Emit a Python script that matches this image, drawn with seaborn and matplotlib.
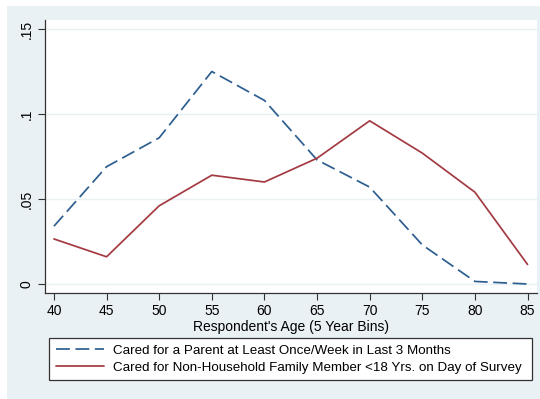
import matplotlib
matplotlib.use("Agg")
import matplotlib.pyplot as plt
import seaborn as sns
import pandas as pd
from matplotlib.patches import Rectangle
from matplotlib.ticker import FixedLocator, FixedFormatter

ages = [40, 45, 50, 55, 60, 65, 70, 75, 80, 85]
parent = [0.034, 0.069, 0.086, 0.125, 0.108, 0.073, 0.057, 0.023, 0.0015, 0.0]
family = [0.0265, 0.016, 0.046, 0.064, 0.060, 0.074, 0.096, 0.077, 0.054, 0.0115]
labels = ["Cared for a Parent at Least Once/Week in Last 3 Months",
          "Cared for Non-Household Family Member <18 Yrs. on Day of Survey"]
yticks = [0, 0.05, 0.1, 0.15]
yticklabels = ["0", ".05", ".1", ".15"]
xlabel = "Respondent's Age (5 Year Bins)"

sns.set_theme(style="white")
plt.rcParams['font.family'] = ['Liberation Sans', 'DejaVu Sans']

BG = "#EAF1F4"
BLUE = "#2c5e90"
RED = "#a33a42"

fig = plt.figure(figsize=(5.4, 3.99), dpi=100)
fig.patch.set_facecolor("white")
fig.patches.append(Rectangle((7/540, 0), 1, 1 - 6/399, transform=fig.transFigure,
                             facecolor=BG, edgecolor="none", zorder=-10))

ax = fig.add_axes([45/540, (399-293)/399, (537-45)/540, (293-20)/399])
ax.set_facecolor("white")

df = pd.DataFrame({"age": ages, "parent": parent, "family": family})
sns.lineplot(data=df, x="age", y="parent", ax=ax, color=BLUE, lw=1.25,
             dashes=False, label=labels[0])
ax.lines[-1].set_dashes((8.0, 3.2))
sns.lineplot(data=df, x="age", y="family", ax=ax, color=RED, lw=1.25,
             label=labels[1])

ax.set_xlim(39.15, 85.9)
ax.set_ylim(-0.0053, 0.1553)
ax.set_xticks(ages)
ax.set_xticklabels([str(a) for a in ages], fontsize=10)
ax.yaxis.set_major_locator(FixedLocator(yticks))
ax.yaxis.set_major_formatter(FixedFormatter(yticklabels))
for t in ax.get_yticklabels():
    t.set_rotation(90)
    t.set_va("center")
    t.set_fontsize(10)
ax.tick_params(axis="both", direction="out", length=5, width=0.8, color="#333333",
               bottom=True, left=True, pad=3, labelcolor="black")
ax.grid(axis="y", color=BG, lw=1.0)
ax.set_axisbelow(True)
for s in ["top", "right"]:
    ax.spines[s].set_visible(False)
for s in ["left", "bottom"]:
    ax.spines[s].set_color("#333333")
    ax.spines[s].set_linewidth(0.9)
ax.set_xlabel(xlabel, fontsize=10, labelpad=1, color="black")
ax.set_ylabel("")

h, l = ax.get_legend_handles_labels()
ax.get_legend().remove()
leg = fig.legend(h, l, loc="upper left", mode="expand",
                 bbox_to_anchor=(49/540, 1 - 382/399, (532-49)/540, 44/399),
                 ncol=1, fontsize=9.6, frameon=True, fancybox=False, framealpha=1,
                 handlelength=3.6, borderpad=0.5, labelspacing=0.32, handletextpad=0.7,
                 borderaxespad=0)
leg.get_frame().set_edgecolor("#333333")
leg.get_frame().set_linewidth(0.9)
leg.get_frame().set_facecolor("white")
for t in leg.get_texts():
    t.set_color("black")

fig.savefig("out.png", dpi=100, facecolor=fig.get_facecolor())
